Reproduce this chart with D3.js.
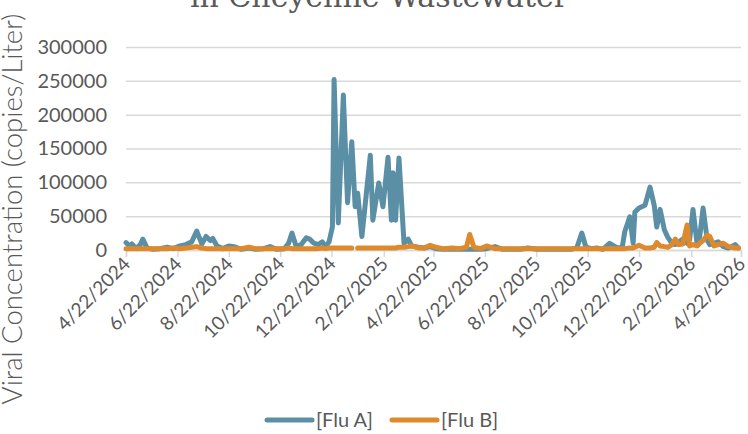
<!DOCTYPE html>
<html>
<head>
<meta charset="utf-8">
<script src="https://cdn.jsdelivr.net/npm/d3@7"></script>
<style>
  body { margin: 0; background: #fff; }
  text { font-family: Lato, "Open Sans", sans-serif; fill: #595959; }
</style>
</head>
<body>
<div id="chart"></div>
<script>
// sample dates (irregular, denser where the signal moves)
var sampleDates = [
	"2024-04-22","2024-04-26","2024-04-29","2024-05-04","2024-05-09","2024-05-12","2024-05-17","2024-05-24",
	"2024-06-01","2024-06-10","2024-06-17","2024-06-25","2024-07-02","2024-07-09","2024-07-15","2024-07-21",
	"2024-07-26","2024-07-31","2024-08-03","2024-08-08","2024-08-15","2024-08-22","2024-08-28","2024-09-06",
	"2024-09-15","2024-09-23","2024-10-02","2024-10-10","2024-10-18","2024-10-27","2024-11-01","2024-11-05",
	"2024-11-10","2024-11-16","2024-11-22","2024-11-26","2024-12-01","2024-12-06","2024-12-11","2024-12-15",
	"2024-12-19","2024-12-23","2024-12-25","2024-12-30","2025-01-05","2025-01-10","2025-01-15","2025-01-19",
	"2025-01-22","2025-01-27","2025-02-01","2025-02-06","2025-02-09","2025-02-16","2025-02-21","2025-02-27",
	"2025-03-03","2025-03-05","2025-03-08","2025-03-12","2025-03-18","2025-03-23","2025-03-27","2025-04-04",
	"2025-04-11","2025-04-18","2025-04-25","2025-05-03","2025-05-14","2025-05-23","2025-05-31","2025-06-04",
	"2025-06-09","2025-06-17","2025-06-24","2025-07-04","2025-07-13","2025-07-24","2025-08-03","2025-08-12",
	"2025-08-23","2025-09-03","2025-09-13","2025-09-23","2025-10-02","2025-10-09","2025-10-15","2025-10-20",
	"2025-10-27","2025-11-02","2025-11-09","2025-11-17","2025-11-22","2025-11-27","2025-12-02","2025-12-05",
	"2025-12-11","2025-12-15","2025-12-17","2025-12-22","2025-12-29","2026-01-04","2026-01-09","2026-01-12",
	"2026-01-16","2026-01-21","2026-01-25","2026-01-30","2026-02-03","2026-02-07","2026-02-12","2026-02-17",
	"2026-02-20","2026-02-24","2026-03-01","2026-03-04","2026-03-08","2026-03-13","2026-03-16","2026-03-21",
	"2026-03-26","2026-04-01","2026-04-07","2026-04-11","2026-04-15","2026-04-19"
];

var fluA = [
	11000,6000,9000,2000,8000,16000,3000,1000,
	2000,4000,2000,6000,8000,12000,28000,9000,
	20000,14000,17000,6000,2000,6000,5000,1000,
	3000,1000,2000,5000,1000,2000,10000,25000,
	5000,8000,18000,16000,10000,8000,12000,5000,
	12000,34000,252000,40000,229000,70000,160000,64000,
	84000,20000,80000,140000,44000,99000,64000,137000,
	44000,114000,44000,136000,10000,16000,6000,4000,
	3000,5000,2000,1000,1000,1000,1000,1000,
	1000,1000,2000,5000,1000,1000,1000,3000,
	1000,1000,1000,1000,1000,3000,25000,4000,
	2000,3000,1000,10000,6000,3000,4000,27000,
	49000,10000,56000,62000,66000,93000,66000,34000,
	60000,30000,19000,10000,8000,12000,16000,10000,
	15000,60000,8000,20000,62000,14000,8000,10000,
	12000,5000,3000,5000,8000,3000
];

var fluB = [
	2000,2000,2000,2000,2000,2000,2000,2000,
	2000,2000,3000,2000,3000,4000,5000,3000,
	2000,2000,2000,2000,2000,2000,2000,2000,
	4000,2000,2000,2000,2000,2000,3000,2000,
	2000,2000,2000,2000,2000,2000,3000,2000,
	3000,3000,3000,3000,3000,3000,3000,null,
	3000,3000,3000,3000,3000,3000,3000,3000,
	3000,3000,3000,4000,4000,5000,6000,3000,
	3000,7000,4000,2000,3000,2000,4000,23000,
	4000,2000,6000,2000,2000,2000,2000,2000,
	2000,2000,2000,2000,2000,2000,2000,2000,
	2000,2000,2000,2000,2000,2000,2000,2000,
	3000,3000,4000,7000,3000,3000,4000,11000,
	6000,5000,4000,8000,16000,8000,9000,37000,
	6000,8000,6000,10000,14000,22000,20000,6000,
	8000,10000,5000,4000,3000,3000
];

var tickLabels = ["4/22/2024","6/22/2024","8/22/2024","10/22/2024","12/22/2024","2/22/2025",
	"4/22/2025","6/22/2025","8/22/2025","10/22/2025","12/22/2025","2/22/2026","4/22/2026"];
var yTicks = [0, 50000, 100000, 150000, 200000, 250000, 300000];

var seriesNames = ["[Flu A]", "[Flu B]"];
var seriesColors = ["#5b8fa5", "#de892b"];

var WIDTH = 748,
	HEIGHT = 434,
	PLOT = { left: 126, right: 741, top: 47, bottom: 250 };

var parseDate = d3.timeParse("%Y-%m-%d");
var parseTick = d3.timeParse("%m/%d/%Y");

var data = sampleDates.map(function(d, i) {
	return { date: parseDate(d), a: fluA[i], b: fluB[i] };
});
var tickDates = tickLabels.map(function(t) { return parseTick(t); });

var xScale = d3.scaleTime()
	.domain([tickDates[0], tickDates[tickDates.length - 1]])
	.range([PLOT.left, PLOT.right]);
var yScale = d3.scaleLinear()
	.domain([0, 300000])
	.range([PLOT.bottom, PLOT.top]);

var svg = d3.select("#chart").append("svg")
	.attr("width", WIDTH)
	.attr("height", HEIGHT);

svg.append("rect").attr("width", WIDTH).attr("height", HEIGHT).attr("fill", "#fff");

// title, mostly cropped off the top
svg.append("text")
	.attr("x", 379)
	.attr("y", 7)
	.attr("text-anchor", "middle")
	.style("font-family", "'DejaVu Serif', serif")
	.style("font-size", "30px")
	.text("in Cheyenne Wastewater");

// gridlines + y labels
var yAxis = svg.append("g")
	.attr("transform", "translate(" + PLOT.left + ",0)")
	.call(d3.axisLeft(yScale).tickValues(yTicks)
		.tickSize(-(PLOT.right - PLOT.left)).tickPadding(19)
		.tickFormat(d3.format("d")));
yAxis.select(".domain").remove();
yAxis.selectAll(".tick line").attr("stroke", "#d9d9d9").attr("stroke-width", 1.5);
yAxis.selectAll(".tick text").style("font-size", "20px").style("font-family", "Lato").attr("fill", "#595959");

// x axis ticks
var xAxis = svg.append("g")
	.attr("transform", "translate(0," + PLOT.bottom + ")")
	.call(d3.axisBottom(xScale).tickValues(tickDates).tickSize(7)
		.tickFormat(function(d, i) { return tickLabels[i]; }));
xAxis.select(".domain").attr("stroke", "#d9d9d9").attr("stroke-width", 1.5);
xAxis.selectAll(".tick line").attr("stroke", "#d9d9d9").attr("stroke-width", 1.5);
xAxis.selectAll(".tick text")
	.style("font-size", "19px").style("font-family", "Lato").attr("fill", "#595959")
	.attr("text-anchor", "end")
	.attr("y", 0).attr("dy", "0.75em")
	.attr("transform", "translate(-5,5) rotate(-45)");

// lines
var lineA = d3.line()
	.x(function(d) { return xScale(d.date); })
	.y(function(d) { return yScale(d.a); });
var lineB = d3.line()
	.defined(function(d) { return d.b != null; })
	.x(function(d) { return xScale(d.date); })
	.y(function(d) { return yScale(d.b); });

svg.append("path").datum(data)
	.attr("d", lineA).attr("fill", "none")
	.attr("stroke", seriesColors[0]).attr("stroke-width", 5)
	.attr("stroke-linejoin", "round").attr("stroke-linecap", "round");
svg.append("path").datum(data)
	.attr("d", lineB).attr("fill", "none")
	.attr("stroke", seriesColors[1]).attr("stroke-width", 5)
	.attr("stroke-linejoin", "round").attr("stroke-linecap", "round");

// y axis title
svg.append("text")
	.attr("transform", "translate(22,209) rotate(-90)")
	.attr("text-anchor", "middle")
	.style("font-size", "27.5px")
	.style("font-weight", 300)
	.text("Viral Concentration (copies/Liter)");

// legend
var legendX = [267, 392];
seriesNames.forEach(function(name, i) {
	svg.append("line")
		.attr("x1", legendX[i]).attr("x2", legendX[i] + 45)
		.attr("y1", 420).attr("y2", 420)
		.attr("stroke", seriesColors[i]).attr("stroke-width", 5)
		.attr("stroke-linecap", "round");
	svg.append("text")
		.attr("x", legendX[i] + 49).attr("y", 427)
		.style("font-size", "20px")
		.text(name);
});
</script>
</body>
</html>
